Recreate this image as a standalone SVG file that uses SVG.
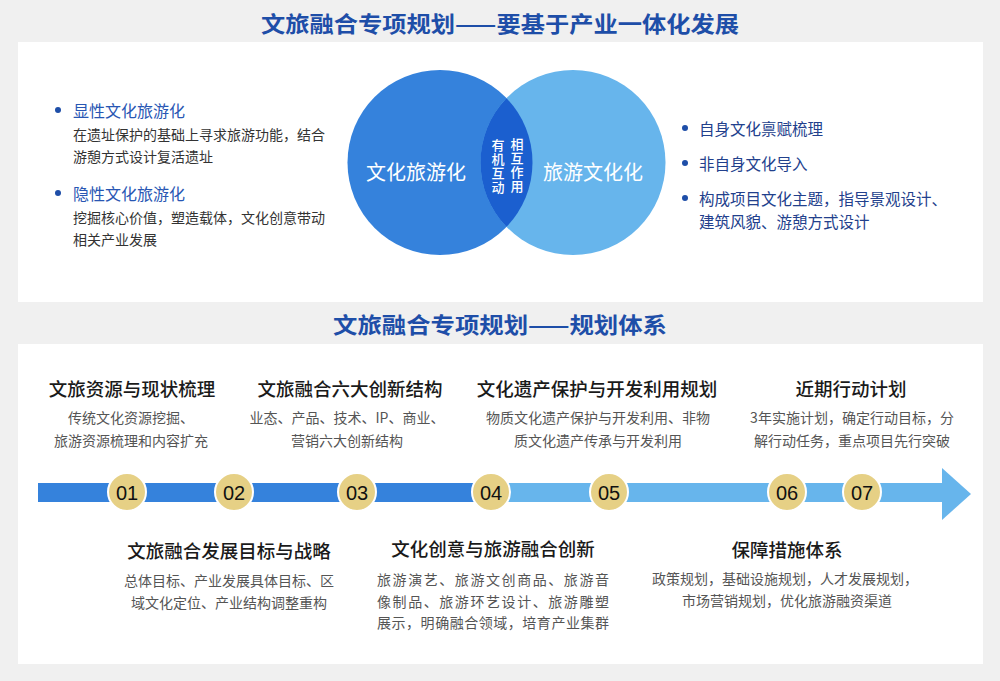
<svg xmlns="http://www.w3.org/2000/svg" width="1000" height="681" viewBox="0 0 1000 681">
<style>
.title{font-family:"Noto Sans CJK SC","Liberation Sans",sans-serif;font-weight:bold;font-size:22px;fill:#1e4ea8;text-anchor:middle;dominant-baseline:central}
.cjk{font-family:"Noto Sans CJK SC","Liberation Sans",sans-serif}
.w{fill:#fff;dominant-baseline:central}
.lh{font-size:16px;fill:#2856b3;dominant-baseline:central}
.ld{font-size:14px;fill:#333;dominant-baseline:central}
.rh{font-size:15.5px;fill:#22408c;dominant-baseline:central}
.st{font-size:18.5px;fill:#1a1a1a;text-anchor:middle;dominant-baseline:central;font-weight:500}
.sd{font-size:14px;fill:#555;dominant-baseline:central}
.c{text-anchor:middle}
.dot{fill:#1e4ea8}
.num{fill:#e6d085;stroke:#fff;stroke-width:2}
.nt{font-family:"Liberation Sans","DejaVu Sans",sans-serif;font-size:20px;fill:#111;text-anchor:middle;dominant-baseline:central}
.lens{font-size:13px;fill:#fff;font-weight:500;writing-mode:vertical-rl;letter-spacing:1px}
</style>
<rect x="0" y="0" width="1000" height="681" fill="#f0f0f0"/>
<rect x="18" y="42" width="965" height="260" fill="#fff"/>
<rect x="18" y="344" width="965" height="320" fill="#fff"/>

<text class="title" x="500" y="22" textLength="478" lengthAdjust="spacingAndGlyphs">文旅融合专项规划——要基于产业一体化发展</text>
<text class="title" x="500" y="323" textLength="334" lengthAdjust="spacingAndGlyphs">文旅融合专项规划——规划体系</text>

<g id="venn">
  <circle cx="440" cy="162.5" r="92.5" fill="#3582dc"/>
  <circle cx="573" cy="162.5" r="92.5" fill="#67b5ec"/>
  <path d="M506.5 98.2 A92.5 92.5 0 0 1 506.5 226.8 A92.5 92.5 0 0 1 506.5 98.2 Z" fill="#1b5fcf"/>
  <text class="cjk w c" x="416" y="171" font-size="20">文化旅游化</text>
  <text class="cjk w c" x="593" y="171" font-size="20">旅游文化化</text>
  <text class="cjk lens" x="498" y="138.5">有机互动</text>
  <text class="cjk lens" x="517" y="137.5">相互作用</text>
</g>

<g id="left-list" class="cjk">
  <circle class="dot" cx="58" cy="110" r="3"/>
  <text class="lh" x="73" y="110">显性文化旅游化</text>
  <text class="ld" x="73" y="134">在遗址保护的基础上寻求旅游功能，结合</text>
  <text class="ld" x="73" y="156">游憩方式设计复活遗址</text>
  <circle class="dot" cx="58" cy="193" r="3"/>
  <text class="lh" x="73" y="193">隐性文化旅游化</text>
  <text class="ld" x="73" y="217">挖掘核心价值，塑造载体，文化创意带动</text>
  <text class="ld" x="73" y="239">相关产业发展</text>
</g>

<g id="right-list" class="cjk">
  <circle class="dot" cx="685" cy="128" r="3"/>
  <text class="rh" x="699" y="128">自身文化禀赋梳理</text>
  <circle class="dot" cx="685" cy="163" r="3"/>
  <text class="rh" x="699" y="163">非自身文化导入</text>
  <circle class="dot" cx="685" cy="198" r="3"/>
  <text class="rh" x="699" y="198">构成项目文化主题，指导景观设计、</text>
  <text class="rh" x="699" y="221">建筑风貌、游憩方式设计</text>
</g>

<g id="connectors">
  <rect x="38" y="483" width="436" height="19" fill="#3582dc"/>
  <rect x="474" y="483" width="470" height="19" fill="#67b5ec"/>
  <polygon points="942,468 971,494 942,520" fill="#67b5ec"/>
</g>

<g id="n01"><ellipse class="num" cx="127" cy="492" rx="19" ry="19"/><text class="nt" x="127" y="493">01</text></g>
<g id="n02"><ellipse class="num" cx="234" cy="492" rx="19" ry="19"/><text class="nt" x="234" y="493">02</text></g>
<g id="n03"><ellipse class="num" cx="357" cy="492" rx="19" ry="19"/><text class="nt" x="357" y="493">03</text></g>
<g id="n04"><ellipse class="num" cx="491" cy="492" rx="19" ry="19"/><text class="nt" x="491" y="493">04</text></g>
<g id="n05"><ellipse class="num" cx="609" cy="492" rx="19" ry="19"/><text class="nt" x="609" y="493">05</text></g>
<g id="n06"><ellipse class="num" cx="787" cy="492" rx="19" ry="19"/><text class="nt" x="787" y="493">06</text></g>
<g id="n07"><ellipse class="num" cx="862" cy="492" rx="19" ry="19"/><text class="nt" x="862" y="493">07</text></g>

<g id="s1" class="cjk">
  <text class="st" x="132" y="388">文旅资源与现状梳理</text>
  <text class="sd c" x="131" y="417">传统文化资源挖掘、</text>
  <text class="sd c" x="131" y="440">旅游资源梳理和内容扩充</text>
</g>
<g id="s2" class="cjk">
  <text class="st" x="350" y="388">文旅融合六大创新结构</text>
  <text class="sd c" x="347" y="417">业态、产品、技术、IP、商业、</text>
  <text class="sd c" x="347" y="440">营销六大创新结构</text>
</g>
<g id="s3" class="cjk">
  <text class="st" x="597" y="388">文化遗产保护与开发利用规划</text>
  <text class="sd c" x="598" y="417">物质文化遗产保护与开发利用、非物</text>
  <text class="sd c" x="598" y="440">质文化遗产传承与开发利用</text>
</g>
<g id="s4" class="cjk">
  <text class="st" x="851" y="388">近期行动计划</text>
  <text class="sd c" x="852" y="417">3年实施计划，确定行动目标，分</text>
  <text class="sd c" x="852" y="440">解行动任务，重点项目先行突破</text>
</g>
<g id="s5" class="cjk">
  <text class="st" x="229" y="550">文旅融合发展目标与战略</text>
  <text class="sd c" x="229" y="580">总体目标、产业发展具体目标、区</text>
  <text class="sd c" x="229" y="602">域文化定位、产业结构调整重构</text>
</g>
<g id="s6" class="cjk">
  <text class="st" x="493" y="548">文化创意与旅游融合创新</text>
  <text class="sd" x="377" y="579" textLength="232" lengthAdjust="spacing">旅游演艺、旅游文创商品、旅游音</text>
  <text class="sd" x="377" y="601" textLength="232" lengthAdjust="spacing">像制品、旅游环艺设计、旅游雕塑</text>
  <text class="sd" x="377" y="622" textLength="232" lengthAdjust="spacing">展示，明确融合领域，培育产业集群</text>
</g>
<g id="s7" class="cjk">
  <text class="st" x="787" y="549">保障措施体系</text>
  <text class="sd c" x="785" y="578">政策规划，基础设施规划，人才发展规划，</text>
  <text class="sd c" x="787" y="600">市场营销规划，优化旅游融资渠道</text>
</g>
</svg>
